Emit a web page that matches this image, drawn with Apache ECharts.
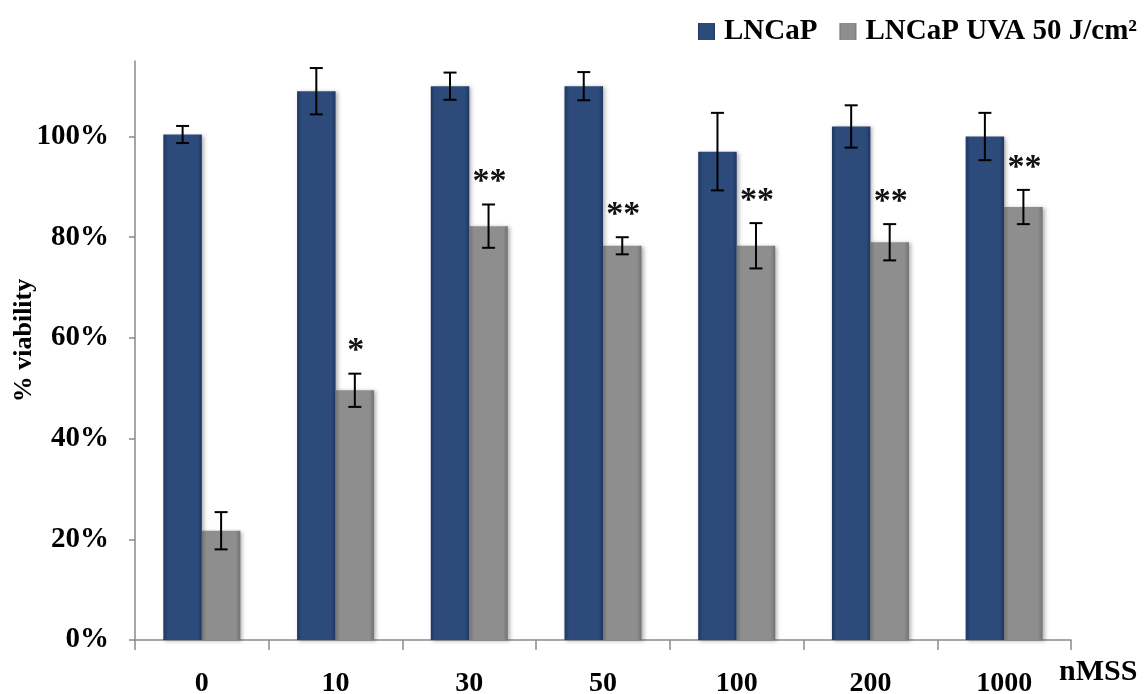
<!DOCTYPE html>
<html>
<head>
<meta charset="utf-8">
<script src="https://cdn.jsdelivr.net/npm/echarts@6/dist/echarts.min.js"></script>
<style>
html,body{margin:0;padding:0;background:#fff;}
#chart{width:1144px;height:694px;}
</style>
</head>
<body>
<div id="chart"></div>
<script>
// groups on the x axis (nM SS)
var categories = ['0', '10', '30', '50', '100', '200', '1000'];
// LNCaP
var lncap = [100.4, 109, 110, 110, 97, 102, 100];
var lncapErr = [1.7, 4.6, 2.7, 2.8, 7.7, 4.2, 4.7];
// LNCaP UVA 50 J/cm²
var uva = [21.7, 49.6, 82.2, 78.3, 78.3, 79, 86];
var uvaErr = [3.7, 3.3, 4.3, 1.7, 4.5, 3.6, 3.4];
var stars = ['', '*', '**', '**', '**', '**', '**'];
var yTicks = [0, 20, 40, 60, 80, 100];

var serif = '"Liberation Serif", "DejaVu Serif", serif';
var chart = echarts.init(document.getElementById('chart'));

function barFill(c1, c2) {
    return new echarts.graphic.LinearGradient(0, 0, 1, 0, [
        { offset: 0, color: c2 },
        { offset: 0.12, color: c1 },
        { offset: 0.88, color: c1 },
        { offset: 1, color: c2 }
    ]);
}
var blueFill = barFill('#2c4b7b', '#1f3760');
var grayFill = barFill('#8e8e8e', '#727272');

var BAR_FRAC = 0.288;

// error bars (+ significance stars) drawn on top of each bar
function errorSeries(name, means, errs, side, marks) {
    var data = [];
    for (var i = 0; i < means.length; i++) {
        data.push([i, means[i], errs[i], marks ? marks[i] : '']);
    }
    return {
        name: name,
        type: 'custom',
        z: 5,
        silent: true,
        data: data,
        encode: { x: 0, y: 1 },
        renderItem: function (params, api) {
            var idx = api.value(0);
            var m = api.value(1);
            var e = api.value(2);
            var band = api.size([1, 0])[0];
            var dx = side * band * BAR_FRAC / 2;
            var hi = api.coord([idx, m + e]);
            var lo = api.coord([idx, m - e]);
            var x = hi[0] + dx;
            var cap = 6.5;
            var st = { stroke: '#000', lineWidth: 2 };
            var children = [
                { type: 'line', shape: { x1: x, y1: hi[1], x2: x, y2: lo[1] }, style: st },
                { type: 'line', shape: { x1: x - cap, y1: hi[1], x2: x + cap, y2: hi[1] }, style: st },
                { type: 'line', shape: { x1: x - cap, y1: lo[1], x2: x + cap, y2: lo[1] }, style: st }
            ];
            var s = data[params.dataIndex][3];
            if (s) {
                children.push({
                    type: 'text',
                    style: {
                        text: s, x: x + 1, y: hi[1] - 22,
                        font: 'bold 34px ' + serif, fill: '#111',
                        align: 'center', verticalAlign: 'middle'
                    }
                });
            }
            return { type: 'group', children: children };
        }
    };
}

var option = {
    animation: false,
    grid: { left: 135, right: 73, top: 61, bottom: 54, outerBoundsMode: 'none', containLabel: false },
    legend: {
        data: ['LNCaP', 'LNCaP UVA 50 J/cm²'],
        right: 2,
        top: 12,
        icon: 'rect',
        itemWidth: 17,
        itemHeight: 17,
        itemGap: 22,
        textStyle: {
            fontFamily: serif, fontWeight: 'bold', fontSize: 29,
            color: '#000', padding: [0, 0, 0, 4]
        }
    },
    xAxis: {
        type: 'category',
        data: categories,
        name: 'nMSS',
        nameLocation: 'end',
        nameGap: -12,
        nameTextStyle: {
            fontFamily: serif, fontWeight: 'bold', fontSize: 30, color: '#000',
            align: 'left', verticalAlign: 'top', padding: [17, 0, 0, 0]
        },
        axisLine: { lineStyle: { color: '#8a8a8a', width: 1.5 } },
        axisTick: { show: true, length: 10, lineStyle: { color: '#8a8a8a', width: 1.5 } },
        axisLabel: {
            margin: 30, fontFamily: serif, fontWeight: 'bold', fontSize: 28, color: '#000'
        }
    },
    yAxis: {
        type: 'value',
        min: 0,
        max: 115,
        interval: 20,
        name: '% viability',
        nameLocation: 'middle',
        nameRotate: 90,
        nameGap: 98,
        nameMoveOverlap: false,
        nameTextStyle: {
            fontFamily: serif, fontWeight: 'bold', fontSize: 26, color: '#000',
            padding: [0, 0, 0, 20]
        },
        splitLine: { show: false },
        axisLine: { show: true, lineStyle: { color: '#8a8a8a', width: 1.5 } },
        axisTick: {
            show: true, length: 6, customValues: yTicks,
            lineStyle: { color: '#8a8a8a', width: 1.5 }
        },
        axisLabel: {
            margin: 26, customValues: yTicks,
            fontFamily: serif, fontWeight: 'bold', fontSize: 29, color: '#000',
            formatter: '{value}%'
        }
    },
    series: [
        {
            name: 'LNCaP',
            type: 'bar',
            data: lncap,
            barWidth: (BAR_FRAC * 100) + '%',
            barGap: '0%',
            itemStyle: {
                color: blueFill,
                shadowBlur: 4, shadowOffsetX: 2, shadowOffsetY: 1,
                shadowColor: 'rgba(0,0,0,0.3)'
            }
        },
        {
            name: 'LNCaP UVA 50 J/cm²',
            type: 'bar',
            data: uva,
            barWidth: (BAR_FRAC * 100) + '%',
            barGap: '0%',
            itemStyle: {
                color: grayFill,
                shadowBlur: 4, shadowOffsetX: 2, shadowOffsetY: 1,
                shadowColor: 'rgba(0,0,0,0.3)'
            }
        },
        errorSeries('errLNCaP', lncap, lncapErr, -1, null),
        errorSeries('errUVA', uva, uvaErr, 1, stars)
    ]
};
chart.setOption(option);
</script>
</body>
</html>
